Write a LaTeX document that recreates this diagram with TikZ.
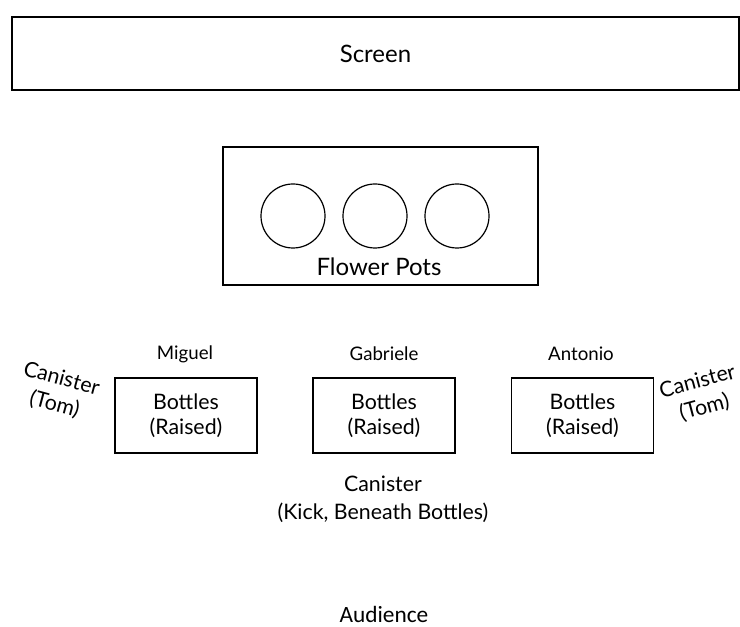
\documentclass[tikz,border=0pt]{standalone}
\usepackage{fontspec}
\setmainfont{Lato}
\newfontfamily\audfont{Carlito}
\usetikzlibrary{positioning,shapes.geometric}

\begin{document}
\begin{tikzpicture}[
    x=0.75pt, y=-0.75pt,
    stagebox/.style={rectangle, draw, line width=1pt, align=center, inner sep=0pt},
    pot/.style={circle, draw, line width=0.9pt, minimum size=48pt, inner sep=0pt},
    bottlebox/.style={stagebox, minimum width=106.5pt, minimum height=56.25pt, font=\fontsize{16}{19}\selectfont},
    player/.style={font=\fontsize{14}{16}\selectfont},
    canister/.style={align=center, font=\fontsize{16}{20}\selectfont}
]
\useasboundingbox (0,0) rectangle (740,627);

% Screen and flower pots
\node[stagebox, line width=1.4pt, minimum width=545.25pt, minimum height=54.75pt, font=\fontsize{18}{21}\selectfont] (screen) at (375.5,53.5) {Screen};
\node[stagebox, minimum width=236.25pt, minimum height=103.5pt] (pots) at (380.5,216) {};
\foreach \x [count=\i] in {293,375,457}
    \node[pot] (pot\i) at (\x,216) {};
\node[font=\fontsize{18}{21}\selectfont] (potlabel) at (379,267) {Flower Pots};

% Bottles and players
\node[bottlebox] (bottlesL) at (186,415.5) {Bottles\\(Raised)};
\node[bottlebox] (bottlesC) at (384,415.5) {Bottles\\(Raised)};
\node[bottlebox] (bottlesR) at (582.5,415.5) {Bottles\\(Raised)};
\node[player] (miguel) at (185,354) {Miguel};
\node[player] (gabriele) at (384,354) {Gabriele};
\node[player] (antonio) at (581,354) {Antonio};

% Canisters
\node[canister, rotate=-15] (canL) at (58,392) {Canister\\(Tom)};
\node[canister, rotate=15] (canR) at (701,395) {Canister\\(Tom)};
\node[canister, font=\fontsize{16}{21}\selectfont] (kick) at (383,499) {Canister\\(Kick, Beneath Bottles)};

% Audience
\node[font=\audfont\fontsize{17.5}{20}\selectfont] (audience) at (384,614) {Audience};

\end{tikzpicture}
\end{document}
